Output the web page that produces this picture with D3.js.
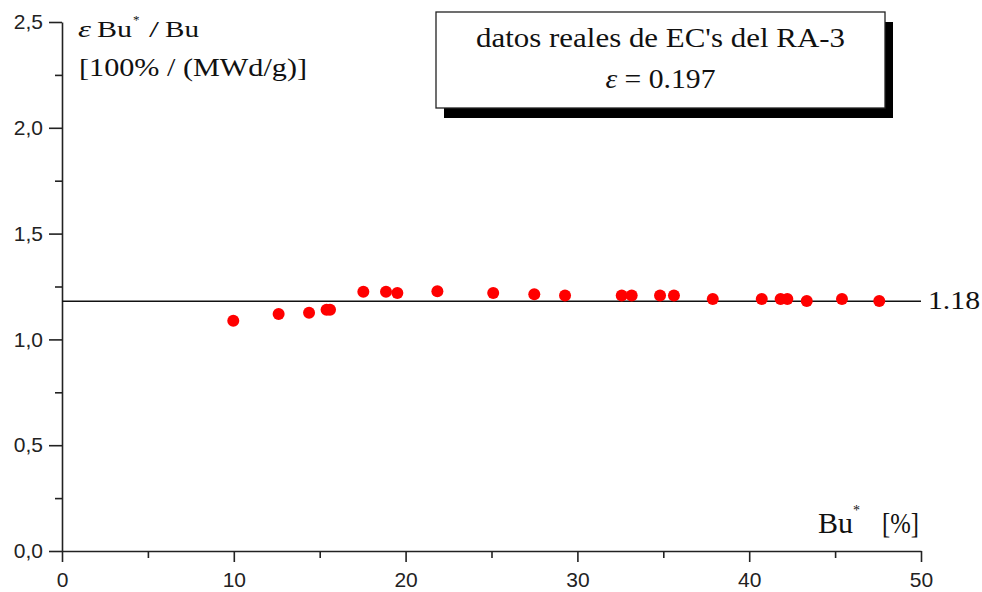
<!DOCTYPE html>
<meta charset="utf-8">

<!-- Load d3.js -->
<script src="https://d3js.org/d3.v7.min.js"></script>

<style>
body { margin: 0; background: #fff; }
.tick text { font-family: "Liberation Sans", Arial, sans-serif; font-size: 21px; fill: #222; }
.serif { font-family: "Liberation Serif", "Times New Roman", serif; fill: #111; }
</style>

<div id="chart"></div>

<script>
// data
var burnup = [9.97, 12.61, 14.38, 15.4, 15.6, 17.54, 18.86, 19.52, 21.85, 25.1, 27.49,
              29.28, 32.58, 33.16, 34.81, 35.62, 37.88, 40.73, 41.83, 42.22, 43.35, 45.4, 47.57];
var ratio  = [1.088, 1.12, 1.126, 1.14, 1.14, 1.225, 1.225, 1.219, 1.227, 1.219, 1.213,
              1.207, 1.207, 1.207, 1.207, 1.207, 1.191, 1.191, 1.191, 1.191, 1.181, 1.191, 1.181];
var meanValue = 1.18;
var xTicks = [0, 10, 20, 30, 40, 50];
var yTicks = [0, 0.5, 1.0, 1.5, 2.0, 2.5];
var legendLines = ["datos reales de EC's del RA-3", "\u03b5 = 0.197"];

// set the dimensions and margins of the graph
var margin = {top: 22, right: 61, bottom: 41, left: 62},
    width = 982 - margin.left - margin.right,
    height = 592 - margin.top - margin.bottom;

var svg = d3.select("#chart")
  .append("svg")
    .attr("width", 982)
    .attr("height", 592)
  .append("g")
    .attr("transform", "translate(" + margin.left + "," + margin.top + ")");

var x = d3.scaleLinear().domain([0, 50]).range([0, width]);
var y = d3.scaleLinear().domain([0, 2.5]).range([height, 0]);

var fmt = function(d) { return d3.format(".1f")(d).replace(".", ","); };

// minor ticks first
svg.append("g")
  .attr("transform", "translate(0," + height + ")")
  .call(d3.axisBottom(x).tickValues([5, 15, 25, 35, 45]).tickSize(7).tickFormat(""))
  .call(g => g.select(".domain").remove());
svg.append("g")
  .call(d3.axisLeft(y).tickValues([0.25, 0.75, 1.25, 1.75, 2.25]).tickSize(7).tickFormat(""))
  .call(g => g.select(".domain").remove());

// X axis
svg.append("g")
  .attr("transform", "translate(0," + height + ")")
  .call(d3.axisBottom(x).tickValues(xTicks).tickSize(11).tickSizeOuter(0).tickPadding(4))
  .call(g => g.selectAll("text").attr("dy", "1.0em"));

// Y axis
svg.append("g")
  .call(d3.axisLeft(y).tickValues(yTicks).tickSize(13).tickSizeOuter(0).tickPadding(6).tickFormat(fmt));

svg.selectAll(".domain, .tick line").attr("stroke", "#222").attr("stroke-width", 1.6);

// mean line
svg.append("line")
  .attr("x1", x(0)).attr("x2", x(50))
  .attr("y1", y(meanValue)).attr("y2", y(meanValue))
  .attr("stroke", "#111").attr("stroke-width", 1.5);

svg.append("text")
  .attr("class", "serif")
  .attr("x", x(50) + 7).attr("y", y(meanValue) + 8)
  .attr("font-size", 26)
  .attr("textLength", 52).attr("lengthAdjust", "spacingAndGlyphs")
  .text(meanValue.toFixed(2));

// dots
svg.append("g")
  .selectAll("circle")
  .data(burnup)
  .enter()
  .append("circle")
    .attr("cx", function(d) { return x(d); })
    .attr("cy", function(d, i) { return y(ratio[i]); })
    .attr("r", 6)
    .style("fill", "#ff0000");

// y axis title, placed piece by piece (page coords)
var title = d3.select("svg").append("g").attr("class", "serif");
function piece(g, txt, px, py, size, len, italic) {
  var t = g.append("text").attr("x", px).attr("y", py).attr("font-size", size).text(txt);
  if (len) t.attr("textLength", len).attr("lengthAdjust", "spacingAndGlyphs");
  if (italic) t.attr("font-style", "italic");
  return t;
}
piece(title, "\u03b5", 78, 37, 24, 13, true);
piece(title, "Bu", 97, 37, 24, 35);
piece(title, "*", 133, 24, 13);
piece(title, "/", 149, 37, 24, 10);
piece(title, "Bu", 165, 37, 24, 34);
piece(title, "[100% / (MWd/g)]", 79, 76, 26, 228);

// x axis title
piece(title, "Bu", 818, 533, 29, 35);
piece(title, "*", 853, 515, 14);
piece(title, "[%]", 882, 533, 29, 37);

// legend box with shadow
var box = {x: 436 - margin.left, y: 12 - margin.top, w: 449, h: 96};
svg.append("rect")
  .attr("x", box.x + 8).attr("y", box.y + 10)
  .attr("width", box.w).attr("height", box.h)
  .attr("fill", "#000");
svg.append("rect")
  .attr("x", box.x).attr("y", box.y)
  .attr("width", box.w).attr("height", box.h)
  .attr("fill", "#fff").attr("stroke", "#222").attr("stroke-width", 1.3);

svg.append("text").attr("class", "serif")
  .attr("x", box.x + box.w / 2).attr("y", 47 - margin.top)
  .attr("text-anchor", "middle").attr("font-size", 28)
  .attr("textLength", 369).attr("lengthAdjust", "spacingAndGlyphs")
  .text(legendLines[0]);

var l2 = svg.append("text").attr("class", "serif")
  .attr("x", box.x + box.w / 2).attr("y", 88 - margin.top)
  .attr("text-anchor", "middle").attr("font-size", 28)
  .attr("textLength", 110).attr("lengthAdjust", "spacingAndGlyphs");
l2.append("tspan").attr("font-style", "italic").text(legendLines[1].slice(0, 1));
l2.append("tspan").text(legendLines[1].slice(1));
</script>
